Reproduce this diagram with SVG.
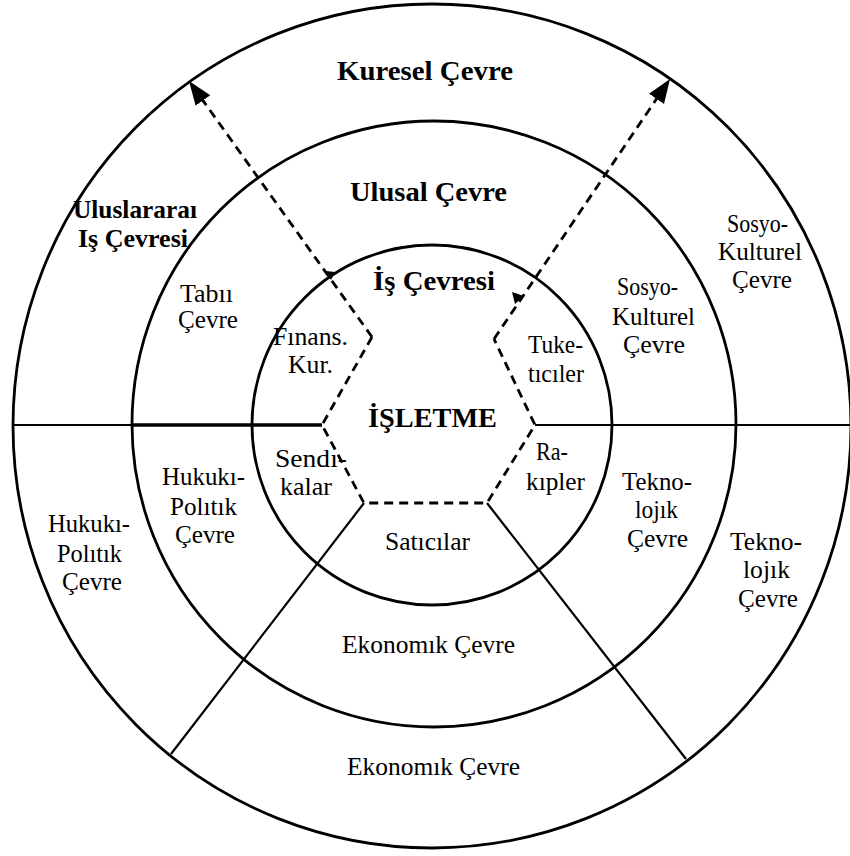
<svg xmlns="http://www.w3.org/2000/svg" width="850" height="856" viewBox="0 0 850 856">
<style>
.ring{fill:none;stroke:#000;stroke-width:2.8}
.sep{fill:none;stroke:#000;stroke-width:2.2}
.dash{fill:none;stroke:#000;stroke-width:2.8;stroke-dasharray:9 6}
text{font-family:"Liberation Serif","Times New Roman",serif;fill:#000;font-size:25px}
.b{font-weight:bold;font-size:27px}
.bs{font-weight:bold;font-size:25px}
</style>
<defs>
<marker id="ah" markerUnits="userSpaceOnUse" markerWidth="26" markerHeight="20" refX="24" refY="9" orient="auto">
<path d="M0,0 L24,9 L0,18 Z" fill="#000"/>
</marker>
</defs>
<rect width="850" height="856" fill="#fff"/>
<g id="rings">
<ellipse class="ring" cx="432" cy="426" rx="419" ry="422"/>
<ellipse class="ring" cx="434" cy="424" rx="302" ry="303"/>
<circle class="ring" cx="432" cy="425" r="180"/>
</g>
<g id="connectors">
<line class="sep" x1="12" y1="425" x2="322" y2="425"/>
<line class="sep" x1="133" y1="425" x2="322" y2="425" style="stroke-width:3.4"/>
<line class="sep" x1="535" y1="425" x2="852" y2="425"/>
<line class="sep" x1="364" y1="503" x2="171" y2="754"/>
<line class="sep" x1="487" y1="503" x2="686" y2="759"/>
<path class="dash" d="M372,337 L322,425 L364,503 L487,503 L535,425 L494,339"/>
<line class="dash" x1="372" y1="337" x2="189" y2="81" marker-end="url(#ah)"/>
<line class="dash" x1="494" y1="339" x2="670" y2="79" marker-end="url(#ah)"/>
<path d="M512,292 L524,296 L515,304 Z" fill="#000"/>
<path d="M326,271 L335,272 L331,280 Z" fill="#000"/>
</g>
<g id="kuresel"><text class="b" x="337" y="80" textLength="176" lengthAdjust="spacingAndGlyphs">Kuresel Çevre</text></g>
<g id="ulusal"><text class="b" x="350" y="201" textLength="157" lengthAdjust="spacingAndGlyphs">Ulusal Çevre</text></g>
<g id="uluslararasi">
<text class="bs" x="73" y="218" textLength="124" lengthAdjust="spacingAndGlyphs">Uluslararaı</text>
<text class="bs" x="78" y="247" textLength="110" lengthAdjust="spacingAndGlyphs">Iş Çevresi</text>
</g>
<g id="is-cevresi"><text class="b" x="373" y="290" textLength="122" lengthAdjust="spacingAndGlyphs">İş Çevresi</text></g>
<g id="isletme"><text class="b" x="368" y="427" textLength="129" lengthAdjust="spacingAndGlyphs">İŞLETME</text></g>
<g id="tabii">
<text x="180" y="302" textLength="53" lengthAdjust="spacingAndGlyphs">Tabıı</text>
<text x="178" y="328" textLength="60" lengthAdjust="spacingAndGlyphs">Çevre</text>
</g>
<g id="finans">
<text x="273" y="345" textLength="75" lengthAdjust="spacingAndGlyphs">Fınans.</text>
<text x="288" y="373" textLength="45" lengthAdjust="spacingAndGlyphs">Kur.</text>
</g>
<g id="tuketiciler">
<text x="528" y="353" textLength="55" lengthAdjust="spacingAndGlyphs">Tuke-</text>
<text x="528" y="382" textLength="56" lengthAdjust="spacingAndGlyphs">tıcıler</text>
</g>
<g id="sosyo-ulusal">
<text x="617" y="295" textLength="61" lengthAdjust="spacingAndGlyphs">Sosyo-</text>
<text x="612" y="325" textLength="83" lengthAdjust="spacingAndGlyphs">Kulturel</text>
<text x="623" y="353" textLength="62" lengthAdjust="spacingAndGlyphs">Çevre</text>
</g>
<g id="sosyo-kuresel">
<text x="727" y="232" textLength="61" lengthAdjust="spacingAndGlyphs">Sosyo-</text>
<text x="718" y="260" textLength="84" lengthAdjust="spacingAndGlyphs">Kulturel</text>
<text x="732" y="288" textLength="60" lengthAdjust="spacingAndGlyphs">Çevre</text>
</g>
<g id="sendikalar">
<text x="275" y="467" textLength="72" lengthAdjust="spacingAndGlyphs">Sendı-</text>
<text x="280" y="495" textLength="52" lengthAdjust="spacingAndGlyphs">kalar</text>
</g>
<g id="rakipler">
<text x="536" y="460" textLength="32" lengthAdjust="spacingAndGlyphs">Ra-</text>
<text x="526" y="490" textLength="59" lengthAdjust="spacingAndGlyphs">kıpler</text>
</g>
<g id="hukuki-ulusal">
<text x="162" y="485" textLength="83" lengthAdjust="spacingAndGlyphs">Hukukı-</text>
<text x="170" y="515" textLength="67" lengthAdjust="spacingAndGlyphs">Polıtık</text>
<text x="175" y="543" textLength="60" lengthAdjust="spacingAndGlyphs">Çevre</text>
</g>
<g id="hukuki-kuresel">
<text x="48" y="532" textLength="82" lengthAdjust="spacingAndGlyphs">Hukukı-</text>
<text x="57" y="562" textLength="65" lengthAdjust="spacingAndGlyphs">Polıtık</text>
<text x="62" y="590" textLength="60" lengthAdjust="spacingAndGlyphs">Çevre</text>
</g>
<g id="tekno-ulusal">
<text x="622" y="490" textLength="70" lengthAdjust="spacingAndGlyphs">Tekno-</text>
<text x="635" y="518" textLength="43" lengthAdjust="spacingAndGlyphs">lojık</text>
<text x="627" y="547" textLength="61" lengthAdjust="spacingAndGlyphs">Çevre</text>
</g>
<g id="tekno-kuresel">
<text x="730" y="550" textLength="72" lengthAdjust="spacingAndGlyphs">Tekno-</text>
<text x="743" y="578" textLength="47" lengthAdjust="spacingAndGlyphs">lojık</text>
<text x="738" y="607" textLength="60" lengthAdjust="spacingAndGlyphs">Çevre</text>
</g>
<g id="saticilar"><text x="385" y="550" textLength="85" lengthAdjust="spacingAndGlyphs">Satıcılar</text></g>
<g id="ekonomik-ulusal"><text x="342" y="653" textLength="173" lengthAdjust="spacingAndGlyphs">Ekonomık Çevre</text></g>
<g id="ekonomik-kuresel"><text x="347" y="775" textLength="173" lengthAdjust="spacingAndGlyphs">Ekonomık Çevre</text></g>
</svg>
